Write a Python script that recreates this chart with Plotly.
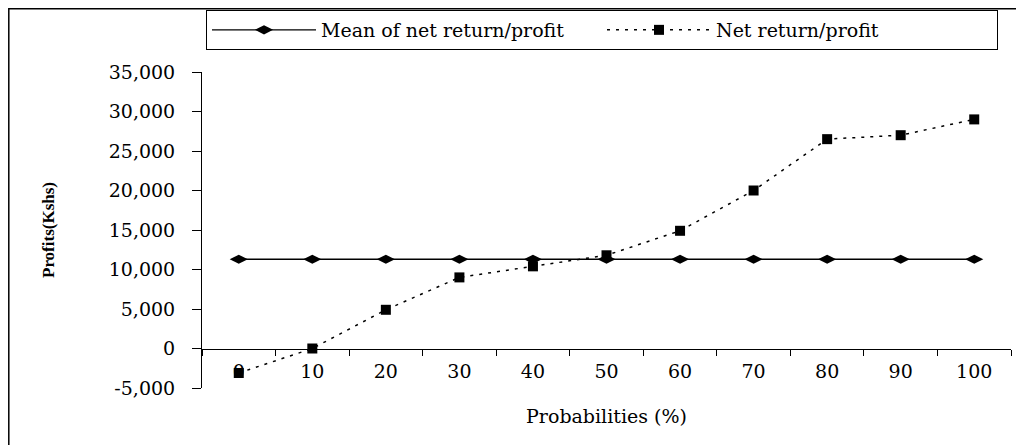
import plotly.graph_objects as go

categories = ["0", "10", "20", "30", "40", "50", "60", "70", "80", "90", "100"]
net_return = [-3100, 0, 4900, 9000, 10400, 11800, 14900, 20000, 26500, 27000, 29000]
mean_return = [11300] * 11
y_ticks = [-5000, 0, 5000, 10000, 15000, 20000, 25000, 30000, 35000]
y_tick_labels = ["-5,000", "0", "5,000", "10,000", "15,000", "20,000",
                 "25,000", "30,000", "35,000"]

W, H = 1024, 445
OFF = 8  # page body margin offset
L, T = 202 - OFF, 72 - OFF
R = W - (1011 - OFF)
B = H - (388 - OFF)
pw, ph = W - L - R, H - T - B

def px_x(p):
    return (p - OFF - L) / pw

def px_y(p):
    return (H - B - (p - OFF)) / ph

serif = "DejaVu Serif"

fig = go.Figure()
fig.add_trace(go.Scatter(
    x=categories, y=mean_return, name="Mean of net return/profit",
    mode="lines+markers",
    line=dict(color="black", width=1.3),
    marker=dict(symbol="diamond-wide", size=13, color="black"),
))
fig.add_trace(go.Scatter(
    x=categories, y=net_return, name="Net return/profit",
    mode="lines+markers",
    line=dict(color="black", width=1.5, dash="3px,6px"),
    marker=dict(symbol="square", size=10, color="black"),
))

zero_pos = (0 - (-5000)) / 40000

fig.update_layout(
    width=W, height=H,
    margin=dict(l=L, r=R, t=T, b=B, autoexpand=False),
    paper_bgcolor="white", plot_bgcolor="white",
    font=dict(family=serif, size=19, color="black"),
    showlegend=True,
    legend=dict(
        orientation="h", xref="container", yref="container",
        x=(206 - OFF) / W, y=1 - 2 / H,
        xanchor="left", yanchor="top",
        bordercolor="black", borderwidth=1,
        font=dict(family=serif, size=19, color="black"),
        itemwidth=104, entrywidth=276,
        tracegroupgap=0,
    ),
    xaxis=dict(
        type="category", range=[-0.5, 10.5],
        anchor="free", position=zero_pos, automargin=False,
        showline=True, linecolor="black", linewidth=1,
        ticks="outside", ticklen=6, tickcolor="black",
        tickson="boundaries", showgrid=False, zeroline=False,
        ticklabelstandoff=6,
        tickfont=dict(family=serif, size=19),
        title=dict(text="Probabilities (%)", standoff=28,
                   font=dict(family=serif, size=19)),
    ),
    yaxis=dict(
        range=[-5000, 35000], tickvals=y_ticks, ticktext=y_tick_labels,
        automargin=False,
        showline=True, linecolor="black", linewidth=1,
        ticks="outside", ticklen=9, tickcolor="black",
        showgrid=False, zeroline=False,
        tickfont=dict(family=serif, size=19),
        ticklabelstandoff=13,
        title=dict(text="<b>Profits(Kshs)</b>", standoff=49,
                   font=dict(family="Liberation Serif", size=17)),
    ),
    shapes=[dict(
        type="rect", xref="paper", yref="paper",
        x0=(0.8 - L) / pw, x1=px_x(1040), y0=px_y(460), y1=(H - B - 0.8) / ph,
        line=dict(color="black", width=1.5), layer="below",
    )],
)

fig.write_html("out.html")
